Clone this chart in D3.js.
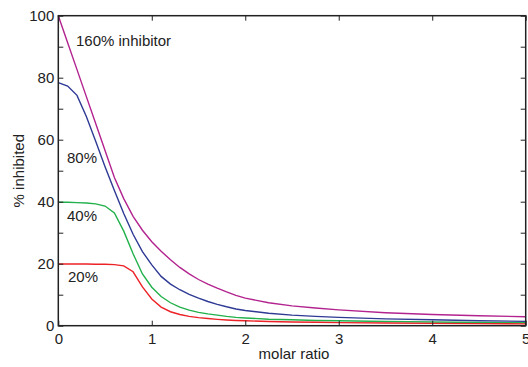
<!DOCTYPE html>
<html>
<head>
<meta charset="utf-8">
<script src="https://cdn.jsdelivr.net/npm/d3@7"></script>
<style>
  html, body { margin: 0; padding: 0; background: #fff; }
  text { font-family: "Liberation Sans", Arial, sans-serif; fill: #222; }
</style>
</head>
<body>
<svg id="chart" width="528" height="367"></svg>
<script>
// ---- data ----
const molarRatio = [0,0.1,0.2,0.3,0.4,0.5,0.6,0.7,0.8,0.9,1.0,1.1,1.2,1.3,1.4,1.5,1.6,1.7,1.8,1.9,2.0,2.25,2.5,2.75,3.0,3.5,4.0,4.5,5.0];
const inhib160 = [100,91.3,82.6,73.9,65.2,56.5,47.8,41.0,35.3,30.8,27.1,24.0,21.3,18.8,16.7,14.9,13.4,12.1,10.9,9.8,8.9,7.4,6.4,5.7,5.1,4.2,3.6,3.2,2.9];
const inhib80  = [78.4,77.3,74.3,67.5,59.5,51.3,43.6,36.2,29.5,23.9,19.6,15.9,13.4,11.6,10.1,8.9,7.8,6.9,6.1,5.4,4.9,4.0,3.4,3.0,2.7,2.2,1.9,1.6,1.4];
const inhib40  = [39.8,39.8,39.7,39.6,39.3,38.6,36.4,30.5,23.2,16.7,12.4,9.4,7.4,6.0,5.0,4.3,3.8,3.4,3.0,2.7,2.5,2.1,1.9,1.7,1.6,1.35,1.2,1.05,0.95];
const inhib20  = [19.9,19.9,19.9,19.9,19.8,19.8,19.7,19.3,17.4,12.5,8.6,6.0,4.5,3.6,3.0,2.6,2.3,2.05,1.85,1.7,1.6,1.35,1.2,1.1,1.0,0.85,0.75,0.68,0.6];
const seriesNames = ["160% inhibitor", "80%", "40%", "20%"];
const seriesColors = ["#b2238f", "#2e3a94", "#22b04b", "#ec2227"];
const xTicks = [0,1,2,3,4,5];
const yTicks = [0,20,40,60,80,100];
const yMinorTicks = [0,10,20,30,40,50,60,70,80,90,100];

const seriesValues = [inhib160, inhib80, inhib40, inhib20];

(function () {
// ---- layout ----
const svg = d3.select("#chart");
const mLeft = 58.3, mRight = 525.7, mTop = 15.7, mBottom = 325.7;
const FONT = "'Liberation Sans', Arial, sans-serif";

const x = d3.scaleLinear().domain([0,5]).range([mLeft, mRight]);
const y = d3.scaleLinear().domain([0,100]).range([mBottom, mTop]);

const axisColor = "#222";

// curves
const line = d3.line()
  .x((d,i) => x(molarRatio[i]))
  .y(d => y(d));

svg.append("g").selectAll("path")
  .data(seriesValues)
  .join("path")
  .attr("d", d => line(d))
  .attr("fill", "none")
  .attr("stroke", (d,i) => seriesColors[i])
  .attr("stroke-width", 1.4);

// axes with inward ticks on all four sides
const tickLen = 5;
const bottomAxis = d3.axisBottom(x).tickValues(xTicks).tickSizeInner(-tickLen).tickSizeOuter(0).tickPadding(8)
  .tickFormat(d3.format("d"));
const topAxis = d3.axisTop(x).tickValues(xTicks).tickSizeInner(-tickLen).tickSizeOuter(0).tickFormat("");
const leftAxis = d3.axisLeft(y).tickValues(yMinorTicks).tickSizeInner(-tickLen).tickSizeOuter(0).tickPadding(4)
  .tickFormat(d => yTicks.includes(d) ? d3.format("d")(d) : "");
const rightAxis = d3.axisRight(y).tickValues(yMinorTicks).tickSizeInner(-tickLen).tickSizeOuter(0).tickFormat("");

function style(g) {
  g.selectAll("path.domain").remove();
  g.selectAll("line").attr("stroke", axisColor).attr("stroke-width", 1);
  g.selectAll("text").attr("font-size", 15).attr("fill", "#222")
    .attr("font-family", FONT);
}

svg.append("g").attr("transform", `translate(0,${mBottom})`).call(bottomAxis).call(style);
svg.append("g").attr("transform", `translate(0,${mTop})`).call(topAxis).call(style);
svg.append("g").attr("transform", `translate(${mLeft},0)`).call(leftAxis).call(style);
svg.append("g").attr("transform", `translate(${mRight},0)`).call(rightAxis).call(style);

// frame
svg.append("rect")
  .attr("x", mLeft).attr("y", mTop)
  .attr("width", mRight - mLeft).attr("height", mBottom - mTop)
  .attr("fill", "none").attr("stroke", axisColor).attr("stroke-width", 1.5);

// axis titles
svg.append("text")
  .attr("x", 294).attr("y", 359)
  .attr("text-anchor", "middle").attr("font-size", 15)
  .attr("font-family", FONT)
  .text("molar ratio");

svg.append("text")
  .attr("transform", `translate(24,${(mTop+mBottom)/2}) rotate(-90)`)
  .attr("text-anchor", "middle").attr("font-size", 15)
  .attr("font-family", FONT)
  .text("% inhibited");

// series labels
const labelPos = [[76, 46], [67, 163], [67, 221], [68, 282]];
svg.append("g").selectAll("text")
  .data(seriesNames)
  .join("text")
  .attr("x", (d,i) => labelPos[i][0])
  .attr("y", (d,i) => labelPos[i][1])
  .attr("font-size", 15)
  .attr("font-family", FONT)
  .text(d => d);
})();
</script>
</body>
</html>
